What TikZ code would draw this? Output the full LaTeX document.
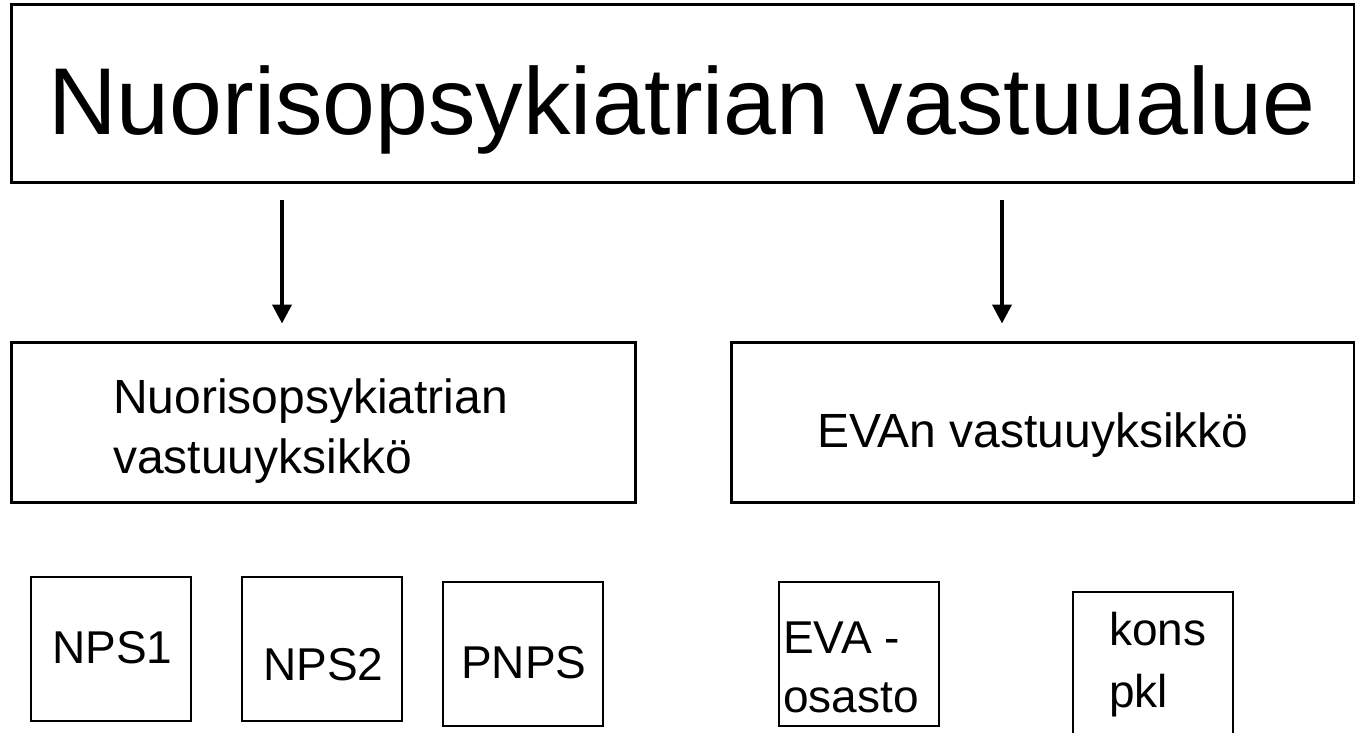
\documentclass[tikz,border=0pt]{standalone}
\usepackage{fontspec}
\setmainfont{Liberation Sans}
\usetikzlibrary{arrows.meta}
\tikzset{
  bigbox/.style={draw, line width=3pt, inner sep=0pt},
  unitbox/.style={draw, line width=2pt, inner sep=0pt, minimum width=160pt, minimum height=144pt},
  txt/.style={inner sep=0pt, anchor=base west, align=left, font=\fontsize{46}{60}\selectfont},
  midtxt/.style={txt, font=\fontsize{48}{60}\selectfont},
  arr/.style={line width=4pt, -{Triangle[width=19pt,length=19pt]}, shorten <=16pt, shorten >=17pt}
}
\begin{document}
\begin{tikzpicture}[x=1pt,y=-1pt]
    \clip (0,0) rectangle (1355,733);
    \fill[white] (0,0) rectangle (1355,733);

    % top level
    \node[bigbox, minimum width=1343pt, minimum height=177pt] (top) at (682.5,93.5) {};
    \node[inner sep=0pt, anchor=base, font=\fontsize{95}{100}\selectfont] (title) at (682,135) {Nuorisopsykiatrian vastuualue};

    % units
    \node[bigbox, minimum width=624pt, minimum height=160pt] (nuv) at (323,422) {};
    \node[bigbox, minimum width=623pt, minimum height=160pt] (eva) at (1042.5,422) {};
    \node[midtxt] (nuvtext) at (113,473) {Nuorisopsykiatrian\\vastuuyksikkö};
    \node[midtxt] (evatext) at (817,447) {EVAn vastuuyksikkö};

    \coordinate (nuvin) at ([xshift=-41pt]nuv.north);
    \coordinate (evain) at ([xshift=-40.5pt]eva.north);
    \draw[arr] (nuvin |- top.south) -- (nuvin);
    \draw[arr] (evain |- top.south) -- (evain);

    % wards
    \node[unitbox] (nps1) at (110.5,649) {};
    \node[unitbox] (nps2) at (322,649) {};
    \node[unitbox] (pnps) at (523,654) {};
    \node[unitbox] (evao) at (859,654) {};
    \node[unitbox] (kons) at (1153,664) {};
    \node[txt] (nps1text) at (52,663) {NPS1};
    \node[txt] (nps2text) at (263,680) {NPS2};
    \node[txt] (pnpstext) at (461,678) {PNPS};
    \node[txt] (evaotext) at (783,712) {EVA -\\[-1pt]osasto};
    \node[txt] (konstext) at (1109,707) {kons\\[2pt]pkl};
\end{tikzpicture}
\end{document}
